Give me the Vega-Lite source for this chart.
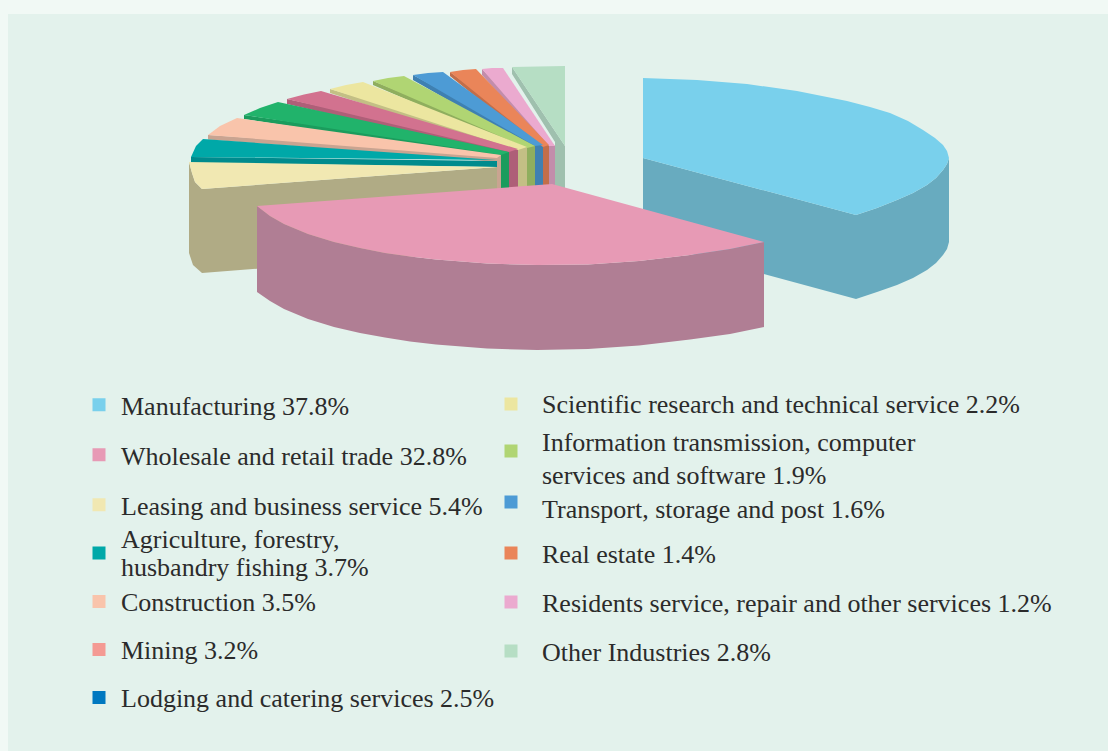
{"$schema":"https://vega.github.io/schema/vega-lite/v6.json","width":1100,"height":737,"padding":{"left":8,"top":14,"right":0,"bottom":0},"autosize":{"type":"none"},"background":"#f1f9f5","view":{"fill":"#e3f2ec","stroke":null},"config":{"legend":{"orient":"none","title":null,"symbolType":"square","symbolSize":169,"symbolOpacity":1,"symbolStrokeWidth":0,"labelFont":"Liberation Serif","labelFontSize":26,"labelColor":"#2b2b2b","labelLimit":700,"rowPadding":0}},"datasets":{"slices":[{"category":"Manufacturing 37.8%","share":37.8,"group":"a"},{"category":"Wholesale and retail trade 32.8%","share":32.8,"group":"a"},{"category":"Leasing and business service 5.4%","share":5.4,"group":"a"},{"category":"Agriculture, forestry, husbandry fishing 3.7%","share":3.7,"group":"b"},{"category":"Construction 3.5%","share":3.5,"group":"c"},{"category":"Mining 3.2%","share":3.2,"group":"c"},{"category":"Lodging and catering services 2.5%","share":2.5,"group":"c"},{"category":"Scientific research and technical service 2.2%","share":2.2,"group":"d"},{"category":"Information transmission, computer services and software 1.9%","share":1.9,"group":"e"},{"category":"Transport, storage and post 1.6%","share":1.6,"group":"f"},{"category":"Real estate 1.4%","share":1.4,"group":"g"},{"category":"Residents service, repair and other services 1.2%","share":1.2,"group":"g"},{"category":"Other Industries 2.8%","share":2.8,"group":"g"}],"faces":[
{"category":"Manufacturing","face":"f1","part":"side","seq":1,"x":643,"y":158},{"category":"Manufacturing","face":"f1","part":"side","seq":2,"x":856,"y":215},{"category":"Manufacturing","face":"f1","part":"side","seq":3,"x":856,"y":299},{"category":"Manufacturing","face":"f1","part":"side","seq":4,"x":643,"y":241},
{"category":"Manufacturing","face":"f2","part":"side","seq":1,"x":856,"y":215},{"category":"Manufacturing","face":"f2","part":"side","seq":2,"x":877,"y":208},{"category":"Manufacturing","face":"f2","part":"side","seq":3,"x":897,"y":200},{"category":"Manufacturing","face":"f2","part":"side","seq":4,"x":913,"y":193},{"category":"Manufacturing","face":"f2","part":"side","seq":5,"x":927,"y":185},{"category":"Manufacturing","face":"f2","part":"side","seq":6,"x":936,"y":178},{"category":"Manufacturing","face":"f2","part":"side","seq":7,"x":943,"y":170},{"category":"Manufacturing","face":"f2","part":"side","seq":8,"x":947,"y":164},{"category":"Manufacturing","face":"f2","part":"side","seq":9,"x":949,"y":158},{"category":"Manufacturing","face":"f2","part":"side","seq":10,"x":949,"y":242},{"category":"Manufacturing","face":"f2","part":"side","seq":11,"x":947,"y":249},{"category":"Manufacturing","face":"f2","part":"side","seq":12,"x":943,"y":255},{"category":"Manufacturing","face":"f2","part":"side","seq":13,"x":936,"y":263},{"category":"Manufacturing","face":"f2","part":"side","seq":14,"x":927,"y":270},{"category":"Manufacturing","face":"f2","part":"side","seq":15,"x":913,"y":278},{"category":"Manufacturing","face":"f2","part":"side","seq":16,"x":897,"y":285},{"category":"Manufacturing","face":"f2","part":"side","seq":17,"x":877,"y":292},{"category":"Manufacturing","face":"f2","part":"side","seq":18,"x":856,"y":299},
{"category":"Other","face":"o1","part":"side","seq":1,"x":512,"y":67},{"category":"Other","face":"o1","part":"side","seq":2,"x":512,"y":74},{"category":"Other","face":"o1","part":"side","seq":3,"x":555,"y":142},{"category":"Other","face":"o1","part":"side","seq":4,"x":555,"y":195},{"category":"Other","face":"o1","part":"side","seq":5,"x":565,"y":195},{"category":"Other","face":"o1","part":"side","seq":6,"x":565,"y":146},
{"category":"Residents","face":"r1","part":"side","seq":1,"x":482,"y":69},{"category":"Residents","face":"r1","part":"side","seq":2,"x":482,"y":75},{"category":"Residents","face":"r1","part":"side","seq":3,"x":549,"y":150},{"category":"Residents","face":"r1","part":"side","seq":4,"x":549,"y":195},{"category":"Residents","face":"r1","part":"side","seq":5,"x":555,"y":195},{"category":"Residents","face":"r1","part":"side","seq":6,"x":555,"y":146},
{"category":"Real estate","face":"e1","part":"side","seq":1,"x":450,"y":72},{"category":"Real estate","face":"e1","part":"side","seq":2,"x":450,"y":76},{"category":"Real estate","face":"e1","part":"side","seq":3,"x":543,"y":151},{"category":"Real estate","face":"e1","part":"side","seq":4,"x":543,"y":195},{"category":"Real estate","face":"e1","part":"side","seq":5,"x":549,"y":195},{"category":"Real estate","face":"e1","part":"side","seq":6,"x":549,"y":145},
{"category":"Transport","face":"t1","part":"side","seq":1,"x":413,"y":75},{"category":"Transport","face":"t1","part":"side","seq":2,"x":413,"y":80},{"category":"Transport","face":"t1","part":"side","seq":3,"x":535,"y":150},{"category":"Transport","face":"t1","part":"side","seq":4,"x":535,"y":195},{"category":"Transport","face":"t1","part":"side","seq":5,"x":543,"y":195},{"category":"Transport","face":"t1","part":"side","seq":6,"x":543,"y":145},
{"category":"Information","face":"i1","part":"side","seq":1,"x":373,"y":81},{"category":"Information","face":"i1","part":"side","seq":2,"x":373,"y":85},{"category":"Information","face":"i1","part":"side","seq":3,"x":527,"y":152},{"category":"Information","face":"i1","part":"side","seq":4,"x":527,"y":195},{"category":"Information","face":"i1","part":"side","seq":5,"x":535,"y":195},{"category":"Information","face":"i1","part":"side","seq":6,"x":535,"y":146},
{"category":"Scientific","face":"s1","part":"side","seq":1,"x":330,"y":89},{"category":"Scientific","face":"s1","part":"side","seq":2,"x":330,"y":93},{"category":"Scientific","face":"s1","part":"side","seq":3,"x":518,"y":154},{"category":"Scientific","face":"s1","part":"side","seq":4,"x":518,"y":195},{"category":"Scientific","face":"s1","part":"side","seq":5,"x":527,"y":195},{"category":"Scientific","face":"s1","part":"side","seq":6,"x":527,"y":147},
{"category":"Lodging","face":"l1","part":"side","seq":1,"x":287,"y":99},{"category":"Lodging","face":"l1","part":"side","seq":2,"x":287,"y":104},{"category":"Lodging","face":"l1","part":"side","seq":3,"x":509,"y":156},{"category":"Lodging","face":"l1","part":"side","seq":4,"x":509,"y":195},{"category":"Lodging","face":"l1","part":"side","seq":5,"x":518,"y":195},{"category":"Lodging","face":"l1","part":"side","seq":6,"x":518,"y":149},
{"category":"Mining","face":"m1","part":"side","seq":1,"x":244,"y":115},{"category":"Mining","face":"m1","part":"side","seq":2,"x":244,"y":119},{"category":"Mining","face":"m1","part":"side","seq":3,"x":501,"y":159},{"category":"Mining","face":"m1","part":"side","seq":4,"x":501,"y":195},{"category":"Mining","face":"m1","part":"side","seq":5,"x":509,"y":195},{"category":"Mining","face":"m1","part":"side","seq":6,"x":509,"y":152},
{"category":"Construction","face":"c1","part":"side","seq":1,"x":208,"y":135},{"category":"Construction","face":"c1","part":"side","seq":2,"x":208,"y":139.5},{"category":"Construction","face":"c1","part":"side","seq":3,"x":497,"y":162},{"category":"Construction","face":"c1","part":"side","seq":4,"x":497,"y":195},{"category":"Construction","face":"c1","part":"side","seq":5,"x":501,"y":195},{"category":"Construction","face":"c1","part":"side","seq":6,"x":501,"y":155},
{"category":"Agriculture","face":"a1","part":"side","seq":1,"x":191,"y":157},{"category":"Agriculture","face":"a1","part":"side","seq":2,"x":191,"y":163},{"category":"Agriculture","face":"a1","part":"side","seq":3,"x":497,"y":167},{"category":"Agriculture","face":"a1","part":"side","seq":4,"x":497,"y":161},
{"category":"Leasing","face":"g1","part":"side","seq":1,"x":202,"y":189},{"category":"Leasing","face":"g1","part":"side","seq":2,"x":497,"y":167},{"category":"Leasing","face":"g1","part":"side","seq":3,"x":497,"y":250},{"category":"Leasing","face":"g1","part":"side","seq":4,"x":202,"y":273},
{"category":"Leasing","face":"g2","part":"side","seq":1,"x":189,"y":162},{"category":"Leasing","face":"g2","part":"side","seq":2,"x":192,"y":173},{"category":"Leasing","face":"g2","part":"side","seq":3,"x":195,"y":182},{"category":"Leasing","face":"g2","part":"side","seq":4,"x":202,"y":189},{"category":"Leasing","face":"g2","part":"side","seq":5,"x":202,"y":273},{"category":"Leasing","face":"g2","part":"side","seq":6,"x":193,"y":265},{"category":"Leasing","face":"g2","part":"side","seq":7,"x":189,"y":253},
{"category":"Manufacturing","face":"f3","part":"top","seq":1,"x":643,"y":78},{"category":"Manufacturing","face":"f3","part":"top","seq":2,"x":697,"y":80},{"category":"Manufacturing","face":"f3","part":"top","seq":3,"x":747,"y":84},{"category":"Manufacturing","face":"f3","part":"top","seq":4,"x":797,"y":91},{"category":"Manufacturing","face":"f3","part":"top","seq":5,"x":847,"y":101},{"category":"Manufacturing","face":"f3","part":"top","seq":6,"x":870,"y":107},{"category":"Manufacturing","face":"f3","part":"top","seq":7,"x":890,"y":113},{"category":"Manufacturing","face":"f3","part":"top","seq":8,"x":908,"y":121},{"category":"Manufacturing","face":"f3","part":"top","seq":9,"x":923,"y":130},{"category":"Manufacturing","face":"f3","part":"top","seq":10,"x":935,"y":138},{"category":"Manufacturing","face":"f3","part":"top","seq":11,"x":943,"y":145},{"category":"Manufacturing","face":"f3","part":"top","seq":12,"x":947,"y":151},{"category":"Manufacturing","face":"f3","part":"top","seq":13,"x":949,"y":158},{"category":"Manufacturing","face":"f3","part":"top","seq":14,"x":947,"y":164},{"category":"Manufacturing","face":"f3","part":"top","seq":15,"x":943,"y":170},{"category":"Manufacturing","face":"f3","part":"top","seq":16,"x":936,"y":178},{"category":"Manufacturing","face":"f3","part":"top","seq":17,"x":927,"y":185},{"category":"Manufacturing","face":"f3","part":"top","seq":18,"x":913,"y":193},{"category":"Manufacturing","face":"f3","part":"top","seq":19,"x":897,"y":200},{"category":"Manufacturing","face":"f3","part":"top","seq":20,"x":877,"y":208},{"category":"Manufacturing","face":"f3","part":"top","seq":21,"x":856,"y":215},{"category":"Manufacturing","face":"f3","part":"top","seq":22,"x":643,"y":158},
{"category":"Other","face":"o2","part":"top","seq":1,"x":512,"y":67},{"category":"Other","face":"o2","part":"top","seq":2,"x":538,"y":66.5},{"category":"Other","face":"o2","part":"top","seq":3,"x":565,"y":66},{"category":"Other","face":"o2","part":"top","seq":4,"x":565,"y":146},
{"category":"Residents","face":"r2","part":"top","seq":1,"x":482,"y":69},{"category":"Residents","face":"r2","part":"top","seq":2,"x":492,"y":68},{"category":"Residents","face":"r2","part":"top","seq":3,"x":503,"y":68},{"category":"Residents","face":"r2","part":"top","seq":4,"x":555,"y":146},{"category":"Residents","face":"r2","part":"top","seq":5,"x":549,"y":146},
{"category":"Real estate","face":"e2","part":"top","seq":1,"x":450,"y":72},{"category":"Real estate","face":"e2","part":"top","seq":2,"x":463,"y":70},{"category":"Real estate","face":"e2","part":"top","seq":3,"x":476,"y":69},{"category":"Real estate","face":"e2","part":"top","seq":4,"x":549,"y":145},{"category":"Real estate","face":"e2","part":"top","seq":5,"x":543,"y":147},
{"category":"Transport","face":"t2","part":"top","seq":1,"x":413,"y":75},{"category":"Transport","face":"t2","part":"top","seq":2,"x":428,"y":73},{"category":"Transport","face":"t2","part":"top","seq":3,"x":443,"y":72},{"category":"Transport","face":"t2","part":"top","seq":4,"x":543,"y":145},{"category":"Transport","face":"t2","part":"top","seq":5,"x":535,"y":146},
{"category":"Information","face":"i2","part":"top","seq":1,"x":373,"y":81},{"category":"Information","face":"i2","part":"top","seq":2,"x":388,"y":78},{"category":"Information","face":"i2","part":"top","seq":3,"x":404,"y":76},{"category":"Information","face":"i2","part":"top","seq":4,"x":535,"y":146},{"category":"Information","face":"i2","part":"top","seq":5,"x":527,"y":148},
{"category":"Scientific","face":"s2","part":"top","seq":1,"x":330,"y":89},{"category":"Scientific","face":"s2","part":"top","seq":2,"x":346,"y":85},{"category":"Scientific","face":"s2","part":"top","seq":3,"x":363,"y":82},{"category":"Scientific","face":"s2","part":"top","seq":4,"x":527,"y":147},{"category":"Scientific","face":"s2","part":"top","seq":5,"x":518,"y":150},
{"category":"Lodging","face":"l2","part":"top","seq":1,"x":287,"y":99},{"category":"Lodging","face":"l2","part":"top","seq":2,"x":304,"y":94.5},{"category":"Lodging","face":"l2","part":"top","seq":3,"x":321,"y":91},{"category":"Lodging","face":"l2","part":"top","seq":4,"x":518,"y":149},{"category":"Lodging","face":"l2","part":"top","seq":5,"x":509,"y":152},
{"category":"Mining","face":"m2","part":"top","seq":1,"x":244,"y":115},{"category":"Mining","face":"m2","part":"top","seq":2,"x":260,"y":108},{"category":"Mining","face":"m2","part":"top","seq":3,"x":278,"y":102},{"category":"Mining","face":"m2","part":"top","seq":4,"x":509,"y":152},{"category":"Mining","face":"m2","part":"top","seq":5,"x":501,"y":155},
{"category":"Construction","face":"c2","part":"top","seq":1,"x":208,"y":135},{"category":"Construction","face":"c2","part":"top","seq":2,"x":220,"y":126},{"category":"Construction","face":"c2","part":"top","seq":3,"x":237,"y":118},{"category":"Construction","face":"c2","part":"top","seq":4,"x":501,"y":155},{"category":"Construction","face":"c2","part":"top","seq":5,"x":497,"y":158},
{"category":"Agriculture","face":"a2","part":"top","seq":1,"x":203,"y":139},{"category":"Agriculture","face":"a2","part":"top","seq":2,"x":196,"y":146},{"category":"Agriculture","face":"a2","part":"top","seq":3,"x":191,"y":157},{"category":"Agriculture","face":"a2","part":"top","seq":4,"x":496,"y":160},
{"category":"Leasing","face":"g3","part":"top","seq":1,"x":189,"y":162},{"category":"Leasing","face":"g3","part":"top","seq":2,"x":192,"y":173},{"category":"Leasing","face":"g3","part":"top","seq":3,"x":195,"y":182},{"category":"Leasing","face":"g3","part":"top","seq":4,"x":202,"y":189},{"category":"Leasing","face":"g3","part":"top","seq":5,"x":497,"y":167},
{"category":"Wholesale","face":"w1","part":"frontSide","seq":1,"x":257,"y":206},{"category":"Wholesale","face":"w1","part":"frontSide","seq":2,"x":270,"y":216},{"category":"Wholesale","face":"w1","part":"frontSide","seq":3,"x":284,"y":224},{"category":"Wholesale","face":"w1","part":"frontSide","seq":4,"x":308,"y":234},{"category":"Wholesale","face":"w1","part":"frontSide","seq":5,"x":334,"y":242},{"category":"Wholesale","face":"w1","part":"frontSide","seq":6,"x":360,"y":248},{"category":"Wholesale","face":"w1","part":"frontSide","seq":7,"x":385,"y":253},{"category":"Wholesale","face":"w1","part":"frontSide","seq":8,"x":410,"y":256.5},{"category":"Wholesale","face":"w1","part":"frontSide","seq":9,"x":436,"y":259.5},{"category":"Wholesale","face":"w1","part":"frontSide","seq":10,"x":487,"y":263.5},{"category":"Wholesale","face":"w1","part":"frontSide","seq":11,"x":537,"y":265},{"category":"Wholesale","face":"w1","part":"frontSide","seq":12,"x":588,"y":264.5},{"category":"Wholesale","face":"w1","part":"frontSide","seq":13,"x":639,"y":261},{"category":"Wholesale","face":"w1","part":"frontSide","seq":14,"x":690,"y":255},{"category":"Wholesale","face":"w1","part":"frontSide","seq":15,"x":730,"y":249},{"category":"Wholesale","face":"w1","part":"frontSide","seq":16,"x":764,"y":242},{"category":"Wholesale","face":"w1","part":"frontSide","seq":17,"x":764,"y":327},{"category":"Wholesale","face":"w1","part":"frontSide","seq":18,"x":730,"y":334},{"category":"Wholesale","face":"w1","part":"frontSide","seq":19,"x":690,"y":339.5},{"category":"Wholesale","face":"w1","part":"frontSide","seq":20,"x":639,"y":345.5},{"category":"Wholesale","face":"w1","part":"frontSide","seq":21,"x":588,"y":349},{"category":"Wholesale","face":"w1","part":"frontSide","seq":22,"x":537,"y":350},{"category":"Wholesale","face":"w1","part":"frontSide","seq":23,"x":487,"y":348.5},{"category":"Wholesale","face":"w1","part":"frontSide","seq":24,"x":436,"y":344.5},{"category":"Wholesale","face":"w1","part":"frontSide","seq":25,"x":410,"y":341.5},{"category":"Wholesale","face":"w1","part":"frontSide","seq":26,"x":385,"y":337.5},{"category":"Wholesale","face":"w1","part":"frontSide","seq":27,"x":360,"y":333},{"category":"Wholesale","face":"w1","part":"frontSide","seq":28,"x":334,"y":327},{"category":"Wholesale","face":"w1","part":"frontSide","seq":29,"x":308,"y":319},{"category":"Wholesale","face":"w1","part":"frontSide","seq":30,"x":284,"y":309},{"category":"Wholesale","face":"w1","part":"frontSide","seq":31,"x":270,"y":301},{"category":"Wholesale","face":"w1","part":"frontSide","seq":32,"x":257,"y":292},
{"category":"Wholesale","face":"w2","part":"frontTop","seq":1,"x":257,"y":206},{"category":"Wholesale","face":"w2","part":"frontTop","seq":2,"x":270,"y":216},{"category":"Wholesale","face":"w2","part":"frontTop","seq":3,"x":284,"y":224},{"category":"Wholesale","face":"w2","part":"frontTop","seq":4,"x":308,"y":234},{"category":"Wholesale","face":"w2","part":"frontTop","seq":5,"x":334,"y":242},{"category":"Wholesale","face":"w2","part":"frontTop","seq":6,"x":360,"y":248},{"category":"Wholesale","face":"w2","part":"frontTop","seq":7,"x":385,"y":253},{"category":"Wholesale","face":"w2","part":"frontTop","seq":8,"x":410,"y":256.5},{"category":"Wholesale","face":"w2","part":"frontTop","seq":9,"x":436,"y":259.5},{"category":"Wholesale","face":"w2","part":"frontTop","seq":10,"x":487,"y":263.5},{"category":"Wholesale","face":"w2","part":"frontTop","seq":11,"x":537,"y":265},{"category":"Wholesale","face":"w2","part":"frontTop","seq":12,"x":588,"y":264.5},{"category":"Wholesale","face":"w2","part":"frontTop","seq":13,"x":639,"y":261},{"category":"Wholesale","face":"w2","part":"frontTop","seq":14,"x":690,"y":255},{"category":"Wholesale","face":"w2","part":"frontTop","seq":15,"x":730,"y":249},{"category":"Wholesale","face":"w2","part":"frontTop","seq":16,"x":764,"y":242},{"category":"Wholesale","face":"w2","part":"frontTop","seq":17,"x":552,"y":184}
]},"layer":[
{"data":{"name":"faces"},"transform":[{"filter":"datum.part=='side'"}],"mark":{"type":"line","strokeWidth":0},"encoding":{"x":{"field":"x","type":"quantitative","axis":null,"scale":{"domain":[8,1108],"nice":false,"zero":false}},"y":{"field":"y","type":"quantitative","axis":null,"scale":{"domain":[14,751],"reverse":true,"nice":false,"zero":false}},"detail":{"field":"face"},"order":{"field":"seq"},"fill":{"field":"category","type":"nominal","legend":null,"scale":{"domain":["Manufacturing","Leasing","Agriculture","Construction","Mining","Lodging","Scientific","Information","Transport","Real estate","Residents","Other"],"range":["#68abbf","#b0ab85","#008b8d","#c9a491","#1b9c5d","#ae5f78","#c3bf85","#8fae5e","#3f80b1","#c26e4a","#c28dab","#9fc0ae"]}}}},
{"data":{"name":"faces"},"transform":[{"filter":"datum.part=='top'"}],"mark":{"type":"line","strokeWidth":0},"encoding":{"x":{"field":"x","type":"quantitative","axis":null,"scale":{"domain":[8,1108],"nice":false,"zero":false}},"y":{"field":"y","type":"quantitative","axis":null,"scale":{"domain":[14,751],"reverse":true,"nice":false,"zero":false}},"detail":{"field":"face"},"order":{"field":"seq"},"fill":{"field":"category","type":"nominal","legend":null,"scale":{"domain":["Manufacturing","Leasing","Agriculture","Construction","Mining","Lodging","Scientific","Information","Transport","Real estate","Residents","Other"],"range":["#79d0ec","#f1e8b2","#00a8a8","#f9c4ab","#21b36b","#d2728f","#ece6a0","#b0d573","#4d9bd5","#ea8559","#ebaacf","#b6dec4"]}}}},
{"data":{"name":"faces"},"transform":[{"filter":"datum.part=='frontSide'"}],"mark":{"type":"line","strokeWidth":0},"encoding":{"x":{"field":"x","type":"quantitative","axis":null,"scale":{"domain":[8,1108],"nice":false,"zero":false}},"y":{"field":"y","type":"quantitative","axis":null,"scale":{"domain":[14,751],"reverse":true,"nice":false,"zero":false}},"detail":{"field":"face"},"order":{"field":"seq"},"fill":{"field":"category","type":"nominal","legend":null,"scale":{"domain":["Wholesale"],"range":["#b07e94"]}}}},
{"data":{"name":"faces"},"transform":[{"filter":"datum.part=='frontTop'"}],"mark":{"type":"line","strokeWidth":0},"encoding":{"x":{"field":"x","type":"quantitative","axis":null,"scale":{"domain":[8,1108],"nice":false,"zero":false}},"y":{"field":"y","type":"quantitative","axis":null,"scale":{"domain":[14,751],"reverse":true,"nice":false,"zero":false}},"detail":{"field":"face"},"order":{"field":"seq"},"fill":{"field":"category","type":"nominal","legend":null,"scale":{"domain":["Wholesale"],"range":["#e79ab5"]}}}},
{"data":{"name":"slices"},"transform":[{"filter":"datum.group=='a'"}],"mark":{"type":"square","opacity":0},"encoding":{"fill":{"field":"category","type":"nominal","scale":{"domain":["Manufacturing 37.8%","Wholesale and retail trade 32.8%","Leasing and business service 5.4%"],"range":["#79d0ec","#e79ab5","#f1e8b2"]},"legend":{"legendX":78,"legendY":366,"clipHeight":49.5,"labelOffset":9,"encoding":{"labels":{"dy":{"value":2}}}}}}},
{"data":{"name":"slices"},"transform":[{"filter":"datum.group=='b'"}],"mark":{"type":"square","opacity":0},"encoding":{"fill":{"field":"category","type":"nominal","scale":{"domain":["Agriculture, forestry, husbandry fishing 3.7%"],"range":["#00a8a8"]},"legend":{"legendX":78,"legendY":509,"clipHeight":60,"labelOffset":9,"encoding":{"labels":{"lineHeight":{"value":28},"dy":{"value":-13}}},"labelExpr":"['Agriculture, forestry,','husbandry fishing 3.7%']"}}}},
{"data":{"name":"slices"},"transform":[{"filter":"datum.group=='c'"}],"mark":{"type":"square","opacity":0},"encoding":{"fill":{"field":"category","type":"nominal","scale":{"domain":["Construction 3.5%","Mining 3.2%","Lodging and catering services 2.5%"],"range":["#f9c4ab","#f49a93","#0078c0"]},"legend":{"legendX":78,"legendY":563.75,"clipHeight":47.5,"labelOffset":9,"encoding":{"labels":{"dy":{"value":1}}}}}}},
{"data":{"name":"slices"},"transform":[{"filter":"datum.group=='d'"}],"mark":{"type":"square","opacity":0},"encoding":{"fill":{"field":"category","type":"nominal","scale":{"domain":["Scientific research and technical service 2.2%"],"range":["#ece6a0"]},"legend":{"legendX":490,"legendY":370,"clipHeight":40,"labelOffset":18,"encoding":{"labels":{"dy":{"value":1}}}}}}},
{"data":{"name":"slices"},"transform":[{"filter":"datum.group=='e'"}],"mark":{"type":"square","opacity":0},"encoding":{"fill":{"field":"category","type":"nominal","scale":{"domain":["Information transmission, computer services and software 1.9%"],"range":["#b0d573"]},"legend":{"legendX":490,"legendY":397,"clipHeight":80,"labelOffset":18,"encoding":{"labels":{"lineHeight":{"value":33},"dy":{"value":-8}}},"labelExpr":"['Information transmission, computer','services and software 1.9%']"}}}},
{"data":{"name":"slices"},"transform":[{"filter":"datum.group=='f'"}],"mark":{"type":"square","opacity":0},"encoding":{"fill":{"field":"category","type":"nominal","scale":{"domain":["Transport, storage and post 1.6%"],"range":["#4d9bd5"]},"legend":{"legendX":490,"legendY":468,"clipHeight":40,"labelOffset":18,"encoding":{"labels":{"dy":{"value":8}}}}}}},
{"data":{"name":"slices"},"transform":[{"filter":"datum.group=='g'"}],"mark":{"type":"square","opacity":0},"encoding":{"fill":{"field":"category","type":"nominal","scale":{"domain":["Real estate 1.4%","Residents service, repair and other services 1.2%","Other Industries 2.8%"],"range":["#ea8559","#ebaacf","#b6dec4"]},"legend":{"legendX":490,"legendY":514.75,"clipHeight":48.5,"labelOffset":18,"encoding":{"labels":{"dy":{"value":2}}}}}}}
],"resolve":{"scale":{"fill":"independent","x":"shared","y":"shared"}}}
